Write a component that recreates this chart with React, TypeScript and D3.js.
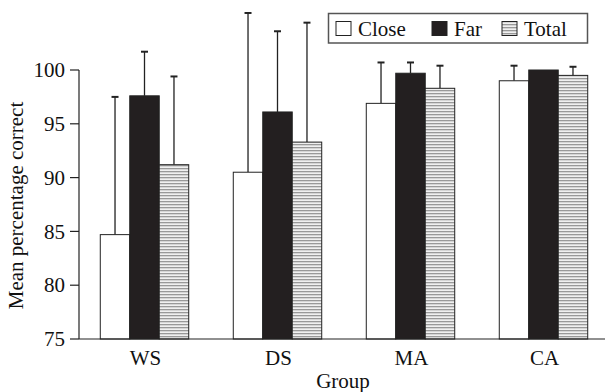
import React from "react";
import * as d3 from "d3";

// chart values
const groups = ["WS", "DS", "MA", "CA"];
const series = ["Close", "Far", "Total"];
const closeMeans = [84.7, 90.5, 96.9, 99.0];
const farMeans = [97.6, 96.1, 99.7, 100.0];
const totalMeans = [91.2, 93.3, 98.3, 99.5];
const closeErr = [12.8, 14.8, 3.8, 1.4];
const farErr = [4.1, 7.5, 1.0, 0];
const totalErr = [8.2, 11.1, 2.1, 0.8];
const yTicks = [75, 80, 85, 90, 95, 100];

const width = 605;
const height = 392;
const font = "'Liberation Serif', 'Times New Roman', serif";

export default function App() {
  const means = [closeMeans, farMeans, totalMeans];
  const errs = [closeErr, farErr, totalErr];

  const x0 = d3
    .scaleBand<string>()
    .domain(groups)
    .range([78, 610])
    .paddingInner(0.335)
    .paddingOuter(0.1675);
  const x1 = d3
    .scaleBand<string>()
    .domain(series)
    .range([0, x0.bandwidth()]);
  const y = d3.scaleLinear().domain([75, 100]).range([339, 70]);

  const fills = ["#ffffff", "#231f20", "url(#stripes)"];
  const legendX = [336, 432, 502];

  return (
    <svg
      width={width}
      height={height}
      style={{ position: "absolute", left: 0, top: 0, background: "#fff" }}
      fontFamily={font}
    >
      <defs>
        <pattern id="stripes" width="6" height="3" patternUnits="userSpaceOnUse">
          <rect width="6" height="3" fill="#f0f0f0" />
          <rect y="0" width="6" height="1.3" fill="#999" />
        </pattern>
      </defs>

      {/* bars */}
      {groups.map((g, gi) => (
        <g key={g} transform={`translate(${x0(g)},0)`}>
          {series.map((s, si) => {
            const v = means[si][gi];
            const bx = x1(s)!;
            const bw = x1.bandwidth();
            const cx = bx + bw / 2;
            const e = errs[si][gi];
            return (
              <g key={s}>
                {e > 0 && (
                  <g stroke="#222" strokeWidth={1.3}>
                    <line x1={cx} x2={cx} y1={y(v)} y2={y(v + e)} />
                    <line x1={cx - 3.5} x2={cx + 3.5} y1={y(v + e)} y2={y(v + e)} strokeWidth={2} />
                  </g>
                )}
                <rect
                  x={bx}
                  y={y(v)}
                  width={bw}
                  height={y(75) - y(v)}
                  fill={fills[si]}
                  stroke="#222"
                  strokeWidth={1}
                />
              </g>
            );
          })}
        </g>
      ))}

      {/* y axis */}
      <line x1={79} x2={79} y1={y(100)} y2={y(75)} stroke="#222" strokeWidth={1.2} />
      {yTicks.map((t) => (
        <g key={t}>
          <line x1={70} x2={79} y1={y(t)} y2={y(t)} stroke="#222" strokeWidth={1.2} />
          <text x={65} y={y(t)} dy="0.34em" textAnchor="end" fontSize={21} fill="#111">
            {t}
          </text>
        </g>
      ))}
      <text
        transform={`translate(23,${(y(75) + y(100)) / 2 + 1}) rotate(-90)`}
        textAnchor="middle"
        fontSize={21}
        fill="#111"
      >
        Mean percentage correct
      </text>

      {/* x axis */}
      <line x1={79} x2={width} y1={y(75)} y2={y(75)} stroke="#222" strokeWidth={1.2} />
      {groups.map((g) => (
        <text
          key={g}
          x={x0(g)! + x0.bandwidth() / 2 + 1}
          y={365}
          textAnchor="middle"
          fontSize={21}
          fill="#111"
        >
          {g}
        </text>
      ))}
      <text x={343} y={388} textAnchor="middle" fontSize={21} fill="#111">
        Group
      </text>

      {/* legend */}
      <rect x={328.5} y={13.5} width={259} height={29.5} fill="#fff" stroke="#555" strokeWidth={1.5} />
      {series.map((s, si) => (
        <g key={s}>
          <rect
            x={legendX[si]}
            y={21.5}
            width={15}
            height={14}
            fill={fills[si]}
            stroke="#222"
            strokeWidth={1}
          />
          <text x={legendX[si] + 22} y={35.5} fontSize={21} fill="#111">
            {s}
          </text>
        </g>
      ))}
    </svg>
  );
}
